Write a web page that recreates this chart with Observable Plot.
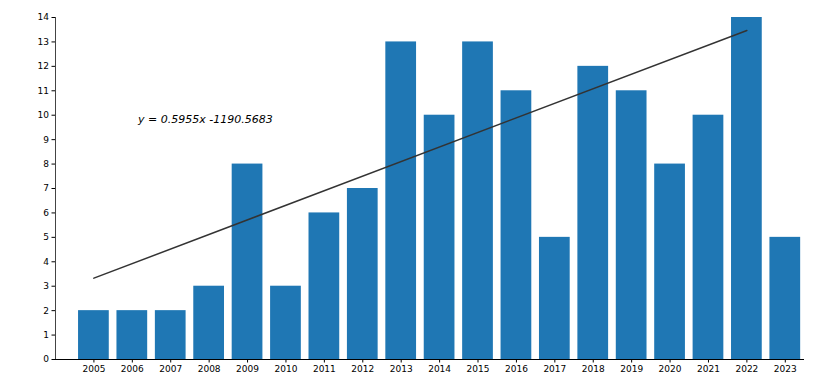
<!DOCTYPE html>
<html><head><meta charset="utf-8">
<script src="https://cdn.jsdelivr.net/npm/d3@7"></script>
<script src="https://cdn.jsdelivr.net/npm/@observablehq/plot@0.6"></script>
<style>body{margin:0;background:#fff;font-family:"DejaVu Sans",sans-serif}</style>
</head><body><div id="chart"></div>
<script>
const years = [2005,2006,2007,2008,2009,2010,2011,2012,2013,2014,2015,2016,2017,2018,2019,2020,2021,2022,2023];
const counts = [2,2,2,3,8,3,6,7,13,10,13,11,5,12,11,8,10,14,5];
const trendYears = [2005, 2022];
const trendValues = [3.33, 13.47];
const equationLabel = "y = 0.5955x -1190.5683";
const yTicks = [0,1,2,3,4,5,6,7,8,9,10,11,12,13,14];

const bars = years.map((y,i)=>({year:y, count:counts[i]}));
const trend = trendYears.map((x,i)=>({x, y: trendValues[i]}));

const chart = Plot.plot({
  width: 830, height: 391,
  marginLeft: 55, marginRight: 26, marginTop: 17, marginBottom: 32,
  style: {fontFamily: "DejaVu Sans, sans-serif", fontSize: "9px", color: "#000", background: "#fff"},
  x: {type: "linear", domain: [2004, 2023.5], ticks: years, tickFormat: d => String(d), label: null, tickSize: 3.5, tickPadding: 3},
  y: {domain: [0, 14], ticks: yTicks, tickFormat: d => String(d), label: null, tickSize: 3.5, tickPadding: 3},
  marks: [
    Plot.rectY(bars, {x1: d => d.year - 0.4, x2: d => d.year + 0.4, y1: 0, y2: "count", fill: "#1f77b4"}),
    Plot.line(trend, {x: "x", y: "y", stroke: "#333", strokeWidth: 1.5}),
    Plot.text([{x: 2006.15, y: 9.82}], {x: "x", y: "y", text: () => equationLabel, textAnchor: "start", fontSize: 11, fontStyle: "italic", fill: "#000"}),
    Plot.ruleX([2004], {stroke: "#444", strokeWidth: 1}),
    Plot.ruleY([0], {stroke: "#000", strokeWidth: 1})
  ]
});
document.getElementById("chart").appendChild(chart);
</script>
</body></html>
